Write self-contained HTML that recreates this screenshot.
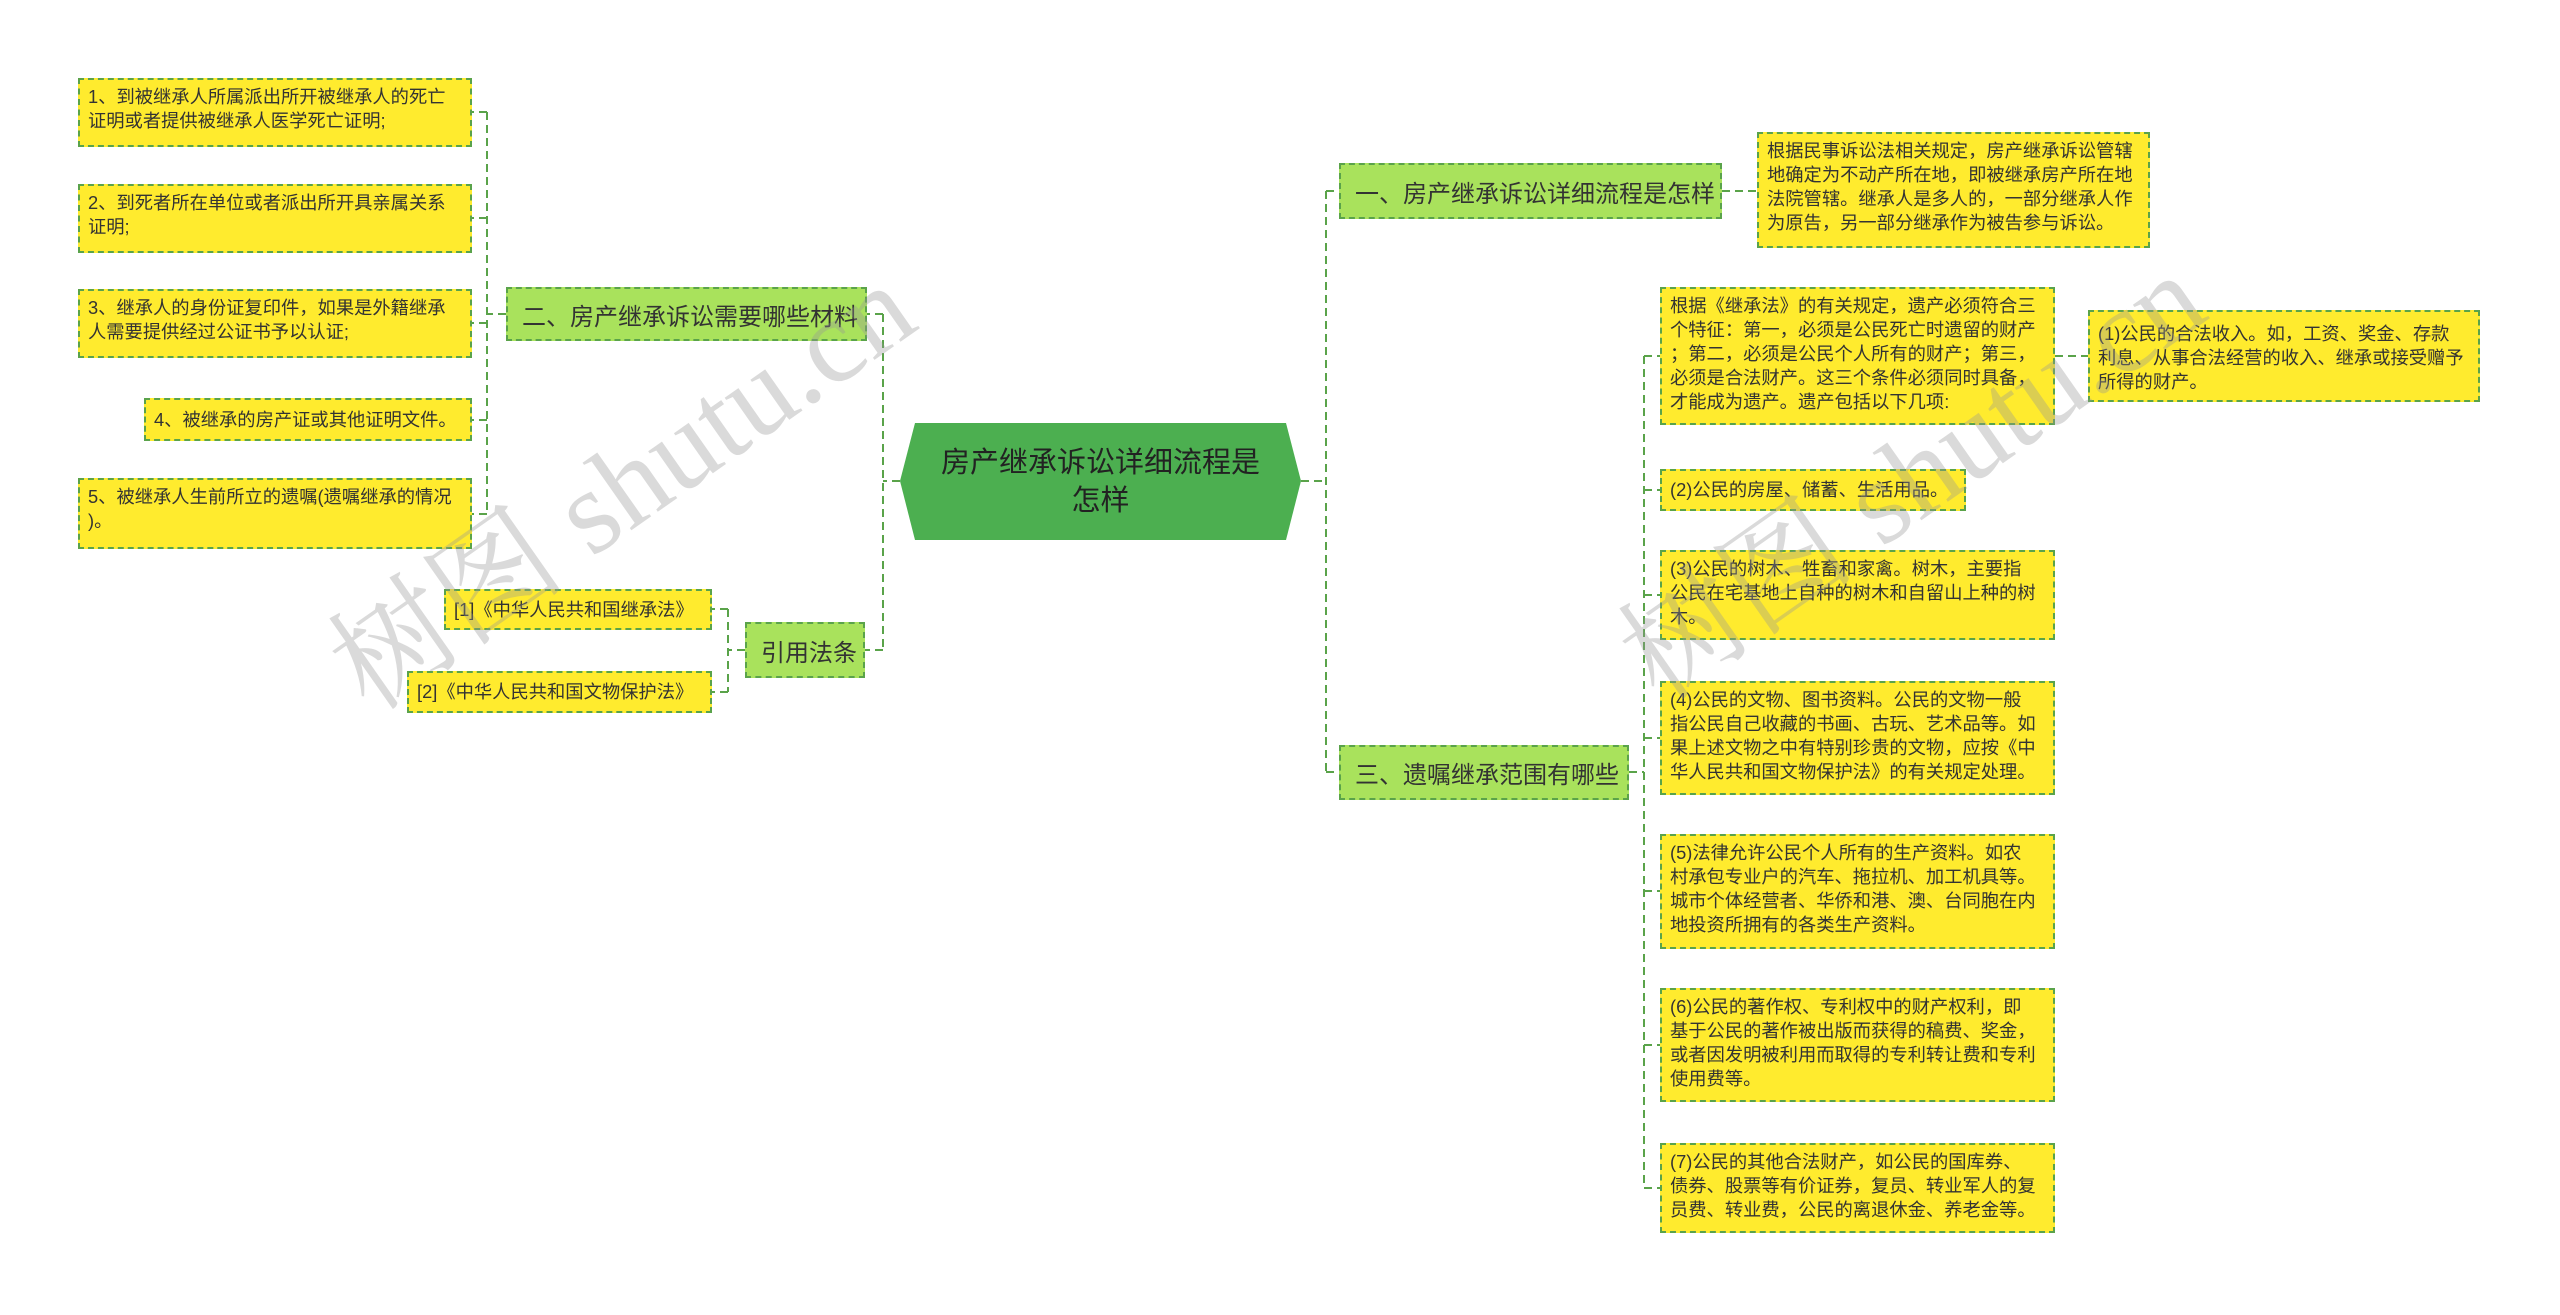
<!DOCTYPE html>
<html><head><meta charset="utf-8"><style>
body{margin:0;width:2560px;height:1315px;background:#fff;position:relative;overflow:hidden;font-family:"Liberation Sans","Noto Sans CJK SC",sans-serif;color:#333}
.n{position:absolute;box-sizing:border-box;border:2px dashed #5aa34a;}
.y{background:#ffeb2e;font-size:18.3px;line-height:24px;padding:5px 4px 5px 8px;}
.g{background:#a9e25c;font-size:24px;display:flex;align-items:center;padding:0 14px;white-space:nowrap}
.wm{position:absolute;font-family:"Liberation Serif","Noto Serif CJK SC",serif;font-size:120px;color:rgba(150,150,150,0.35);transform:rotate(-35deg);transform-origin:left bottom;white-space:nowrap}
</style></head><body>
<svg width="2560" height="1315" style="position:absolute;left:0;top:0">
<g stroke="#5aa34a" stroke-width="2" stroke-dasharray="8,5" fill="none">
<path d="M1301 481 H1326 M1326 191 V772 M1326 191 H1339 M1326 772 H1339"/>
<path d="M1722 191 H1757"/>
<path d="M1629 772 H1644 M1644 356 V1188 M1644 356 H1660 M1644 490 H1660 M1644 595 H1660 M1644 738 H1660 M1644 891 H1660 M1644 1045 H1660 M1644 1188 H1660 M2055 356 H2088"/>
<path d="M900 481 H883 M883 314 V650 M883 314 H867 M883 650 H865"/>
<path d="M506 314 H487 M487 112 V514 M487 112 H472 M487 218 H472 M487 323 H472 M487 420 H472 M487 514 H472"/>
<path d="M745 650 H728 M728 609 V692 M728 609 H712 M728 692 H712"/>
</g>
<polygon points="915,423 1286,423 1301,481 1286,540 915,540 900,481" fill="#4caf50"/>
</svg>
<div style="position:absolute;left:915px;top:423px;width:371px;height:117px;display:flex;align-items:center;justify-content:center;text-align:center;font-size:29px;line-height:38px;color:#222">房产继承诉讼详细流程是<br>怎样</div>

<div class="n g" style="left:506px;top:287px;width:361px;height:54px">二、房产继承诉讼需要哪些材料</div>
<div class="n g" style="left:745px;top:622px;width:120px;height:56px">引用法条</div>
<div class="n g" style="left:1339px;top:163px;width:383px;height:56px">一、房产继承诉讼详细流程是怎样</div>
<div class="n g" style="left:1339px;top:745px;width:290px;height:55px">三、遗嘱继承范围有哪些</div>

<div class="n y" style="left:78px;top:78px;width:394px;height:69px">1、到被继承人所属派出所开被继承人的死亡<br>证明或者提供被继承人医学死亡证明;</div>
<div class="n y" style="left:78px;top:184px;width:394px;height:69px">2、到死者所在单位或者派出所开具亲属关系<br>证明;</div>
<div class="n y" style="left:78px;top:289px;width:394px;height:69px">3、继承人的身份证复印件，如果是外籍继承<br>人需要提供经过公证书予以认证;</div>
<div class="n y" style="left:144px;top:398px;width:328px;height:43px;padding-top:8px">4、被继承的房产证或其他证明文件。</div>
<div class="n y" style="left:78px;top:478px;width:394px;height:71px">5、被继承人生前所立的遗嘱(遗嘱继承的情况<br>)。</div>
<div class="n y" style="left:444px;top:589px;width:268px;height:41px;padding-top:7px">[1]《中华人民共和国继承法》</div>
<div class="n y" style="left:407px;top:671px;width:305px;height:42px;padding-top:7px">[2]《中华人民共和国文物保护法》</div>

<div class="n y" style="left:1757px;top:132px;width:393px;height:116px">根据民事诉讼法相关规定，房产继承诉讼管辖地确定为不动产所在地，即被继承房产所在地法院管辖。继承人是多人的，一部分继承人作为原告，另一部分继承作为被告参与诉讼。</div>
<div class="n y" style="left:1660px;top:287px;width:395px;height:138px">根据《继承法》的有关规定，遗产必须符合三<br>个特征：第一，必须是公民死亡时遗留的财产<br>；第二，必须是公民个人所有的财产；第三，<br>必须是合法财产。这三个条件必须同时具备，<br>才能成为遗产。遗产包括以下几项:</div>
<div class="n y" style="left:2088px;top:310px;width:392px;height:92px;padding-top:10px">(1)公民的合法收入。如，工资、奖金、存款<br>利息、从事合法经营的收入、继承或接受赠予<br>所得的财产。</div>
<div class="n y" style="left:1660px;top:469px;width:306px;height:42px;padding-top:7px">(2)公民的房屋、储蓄、生活用品。</div>
<div class="n y" style="left:1660px;top:550px;width:395px;height:90px">(3)公民的树木、牲畜和家禽。树木，主要指<br>公民在宅基地上自种的树木和自留山上种的树<br>木。</div>
<div class="n y" style="left:1660px;top:681px;width:395px;height:114px">(4)公民的文物、图书资料。公民的文物一般<br>指公民自己收藏的书画、古玩、艺术品等。如<br>果上述文物之中有特别珍贵的文物，应按《中<br>华人民共和国文物保护法》的有关规定处理。</div>
<div class="n y" style="left:1660px;top:834px;width:395px;height:115px">(5)法律允许公民个人所有的生产资料。如农<br>村承包专业户的汽车、拖拉机、加工机具等。<br>城市个体经营者、华侨和港、澳、台同胞在内<br>地投资所拥有的各类生产资料。</div>
<div class="n y" style="left:1660px;top:988px;width:395px;height:114px">(6)公民的著作权、专利权中的财产权利，即<br>基于公民的著作被出版而获得的稿费、奖金，<br>或者因发明被利用而取得的专利转让费和专利<br>使用费等。</div>
<div class="n y" style="left:1660px;top:1143px;width:395px;height:90px">(7)公民的其他合法财产，如公民的国库券、<br>债券、股票等有价证券，复员、转业军人的复<br>员费、转业费，公民的离退休金、养老金等。</div>

<div class="wm" style="left:390px;top:570px">树图 shutu.cn</div>
<div class="wm" style="left:1680px;top:560px">树图 shutu.cn</div>
</body></html>
